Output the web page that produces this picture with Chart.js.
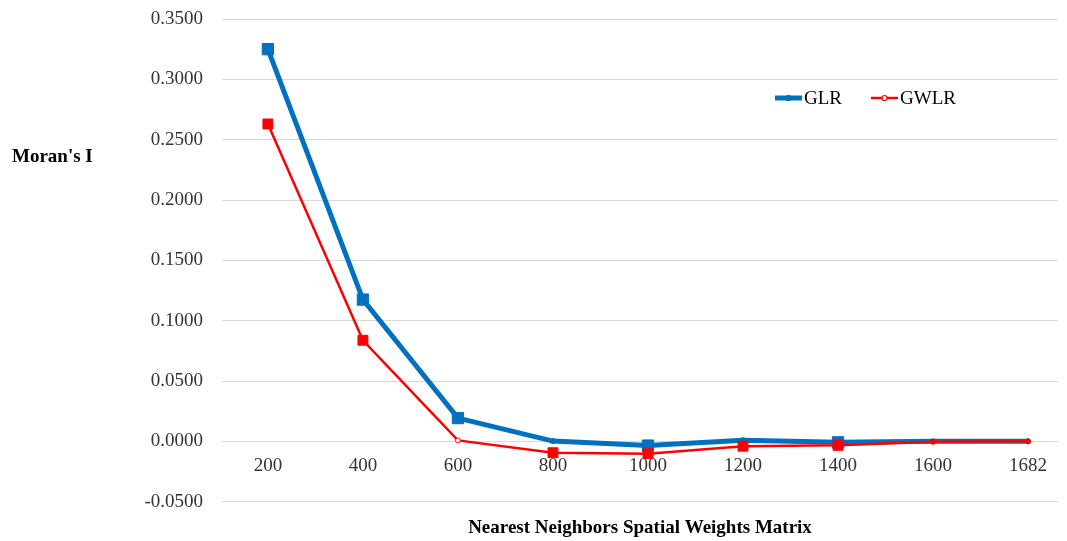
<!DOCTYPE html>
<html><head><meta charset="utf-8">
<script src="https://cdn.jsdelivr.net/npm/chart.js@4/dist/chart.umd.min.js"></script>
<style>html,body{margin:0;padding:0;background:#fff}</style>
</head><body>
<canvas id="c" width="1067" height="541"></canvas>
<script>
// ---- data ----
const categories = ['200', '400', '600', '800', '1000', '1200', '1400', '1600', '1682'];
const glrValues  = [0.3250, 0.1175, 0.0193, 0.0002, -0.0035, 0.0010, -0.0008, 0.0000, 0.0000];
const gwlrValues = [0.2630, 0.0838, 0.0008, -0.0094, -0.0102, -0.0040, -0.0033, -0.0003, 0.0000];
const seriesNames = ['GLR', 'GWLR'];
const yMin = -0.05, yMax = 0.35, yStep = 0.05;
const xTitle = 'Nearest Neighbors Spatial Weights Matrix';
const yTitle = "Moran's I";

// ---- styles ----
const BLUE = '#0070C0', RED = '#FF0000';
const glrStyles  = ['rect','rect','rect','circle','rect','circle','rect','circle','circle'];
const gwlrStyles = ['rect','rect','circle','rect','rect','rect','rect','circle','circle'];
const FONT = 'Liberation Serif';

const extras = {
  id: 'extras',
  afterDraw(chart) {
    const ctx = chart.ctx;
    ctx.save();
    ctx.fillStyle = '#000';
    ctx.font = 'bold 19px "' + FONT + '"';
    ctx.textAlign = 'left';
    ctx.textBaseline = 'middle';
    ctx.fillText(yTitle, 12, 157);
    // legend
    const items = [
      {ds: chart.data.datasets[1], x: 775},
      {ds: chart.data.datasets[0], x: 871}
    ];
    const ly = 98;
    items.forEach(it => {
      ctx.strokeStyle = it.ds.borderColor;
      ctx.lineWidth = it.ds.borderWidth;
      ctx.beginPath(); ctx.moveTo(it.x, ly); ctx.lineTo(it.x + 27, ly); ctx.stroke();
      ctx.beginPath(); ctx.arc(it.x + 13.5, ly, 2.5, 0, Math.PI * 2);
      ctx.fillStyle = it.ds.label === 'GWLR' ? '#fff' : it.ds.borderColor;
      ctx.fill(); ctx.lineWidth = 1.2; ctx.stroke();
      ctx.fillStyle = '#000';
      ctx.font = '19px "' + FONT + '"';
      ctx.fillText(it.ds.label, it.x + 29, ly + 1);
    });
    ctx.restore();
  }
};

new Chart(document.getElementById('c'), {
  type: 'line',
  data: {
    datasets: [
      {
        label: seriesNames[1],
        data: gwlrValues.map((v, i) => ({x: i, y: v})),
        borderColor: RED, backgroundColor: RED, borderWidth: 2.5,
        pointStyle: gwlrStyles,
        pointRadius: gwlrStyles.map(s => s === 'rect' ? 7 : 2.5),
        pointBackgroundColor: gwlrStyles.map((s, i) => (s === 'circle' && i === 2) ? '#fff' : RED),
        pointBorderColor: RED, pointBorderWidth: 1,
        tension: 0, order: 0
      },
      {
        label: seriesNames[0],
        data: glrValues.map((v, i) => ({x: i, y: v})),
        borderColor: BLUE, backgroundColor: BLUE, borderWidth: 5,
        pointStyle: glrStyles,
        pointRadius: glrStyles.map(s => s === 'rect' ? 8 : 2.5),
        pointBackgroundColor: BLUE, pointBorderColor: BLUE, pointBorderWidth: 1,
        tension: 0, order: 1
      }
    ]
  },
  options: {
    responsive: false, animation: false, devicePixelRatio: 1,
    layout: {padding: {left: 0, right: 7, top: 19, bottom: 0}},
    plugins: {
      legend: {display: false},
      tooltip: {enabled: false},
      title: {
        display: true, position: 'bottom', fullSize: false, text: xTitle,
        color: '#000', font: {family: FONT, size: 19, weight: 'bold'},
        padding: {top: 15, bottom: 1.5}
      }
    },
    scales: {
      x: {
        type: 'linear', min: -0.483, max: 8.315, position: {y: 0},
        afterBuildTicks: s => { s.ticks = categories.map((c, i) => ({value: i})); },
        afterFit: s => { s.height = 0; s.paddingTop = 0; s.paddingBottom = 0; },
        grid: {display: false, drawTicks: false},
        border: {display: false},
        ticks: {
          callback: v => categories[v],
          font: {family: FONT, size: 19}, color: '#333333',
          padding: 13, maxRotation: 0, autoSkip: false
        }
      },
      y: {
        min: yMin, max: yMax,
        afterFit: s => { s.width = 222; s.paddingTop = 0; s.paddingBottom = 0; },
        grid: {color: '#d9d9d9', drawTicks: false, lineWidth: 1},
        border: {display: false},
        ticks: {
          stepSize: yStep,
          callback: v => (Math.abs(v) < 1e-9 ? 0 : v).toFixed(4),
          font: {family: FONT, size: 19}, color: '#333333', padding: 19
        }
      }
    }
  },
  plugins: [extras]
});
</script>
</body></html>
